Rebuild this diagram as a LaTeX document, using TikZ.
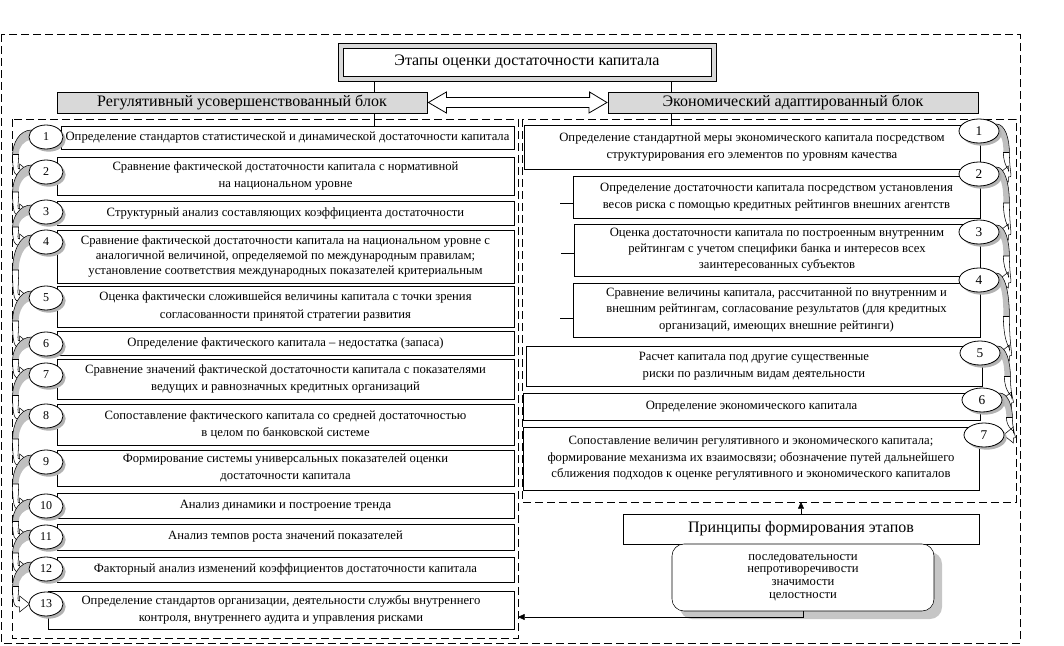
\documentclass[tikz,border=0pt]{standalone}
\usepackage{fontspec}
\setmainfont{Liberation Serif}
\usetikzlibrary{shapes.geometric,shadows,calc,arrows.meta}
\pgfdeclarelayer{bg}
\pgfsetlayers{bg,main}
\begin{document}
\begin{tikzpicture}[x=0.75pt,y=-0.75pt,line width=0.6pt,
  font=\fontsize{9.5}{13}\selectfont,
  box/.style={draw,fill=white,inner sep=0pt,align=center},
  hbox/.style={draw,fill=gray!30,inner sep=0pt,font=\fontsize{12}{14}\selectfont},
  lell/.style={ellipse,draw,fill=white,minimum width=25.5pt,minimum height=18pt,inner sep=0pt,
    drop shadow={shadow xshift=2pt,shadow yshift=-2pt,fill=gray!60,opacity=1},
    font=\fontsize{9}{10}\selectfont},
  rell/.style={lell,minimum width=30pt,font=\fontsize{10}{11}\selectfont},
  frame/.style={draw,dash pattern=on 6pt off 3pt},
  tip/.style={-{Triangle[length=5pt,width=4.5pt]}},
  pics/carr/.style n args={3}{code={
    \fill[gray!50] (3,-7) .. controls ({-0.6*#3},-7) and ({-#3},{0.2*#1}) .. ({-#3},{0.5*#1})
      -- ({-#3+6},{0.5*#1}) .. controls ({-#3+6},{0.3*#1}) and ({-0.3*#3},3) .. (3,3) -- cycle;
    \draw (3,-7) .. controls ({-0.6*#3},-7) and ({-#3},{0.2*#1}) .. ({-#3},{0.5*#1});
    \draw[fill=white] ({-#3},{0.5*#1}) .. controls ({-#3},{#1}) and ({#2-14},{#1+4}) .. ({#2-9},{#1+3})
      -- ({#2-9},{#1+8}) -- ({#2+1},{#1}) -- ({#2-9},{#1-8}) -- ({#2-9},{#1-3})
      .. controls ({#2-12},{#1-3}) and ({-#3+6},{#1-6}) .. ({-#3+6},{0.5*#1}) -- cycle;
  }}]
\useasboundingbox (0,0) rectangle (1064,646);

% frames
\draw[frame] (1,34) rectangle (1020,643);
\draw[frame] (12,119) rectangle (518,638);
\draw[frame] (522,119) rectangle (1016,502);

% title
\node[draw,fill=gray!30,minimum width=283.5pt,minimum height=28.5pt,inner sep=0pt] (tout) at (527,62) {};
\node[box,minimum width=276pt,minimum height=21pt,font=\fontsize{12}{14}\selectfont] (title) at (527,62) {Этапы оценки достаточности капитала};

% headings
\node[hbox,minimum width=277.5pt,minimum height=15.75pt] (lg) at (242,102.5) {Регулятивный усовершенствованный блок};
\node[hbox,minimum width=277.5pt,minimum height=15.75pt] (rg) at (793,102.5) {Экономический адаптированный блок};

% double arrow
\draw[fill=white] ([xshift=0.75pt]lg.east) -- ++(18,-10.5) -- ++(0,5.5)
  -- ([shift={(-18,-5)}]rg.west) -- ++(0,-5.5) -- ([xshift=-0.5pt]rg.west)
  -- ++(-18,10.5) -- ++(0,-5.5) -- ([shift={(19,5)}]lg.east) -- ++(0,5.5) -- cycle;

% left boxes
\node[box,minimum width=339.75pt,minimum height=17.25pt] (b1) at (287.5,137.5) {Определение стандартов статистической и динамической достаточности капитала};
\node[box,minimum width=342.75pt,minimum height=28.5pt] (b2) at (285.5,176) {Сравнение фактической достаточности капитала с нормативной\\на национальном уровне};
\node[box,minimum width=342.75pt,minimum height=18pt] (b3) at (285.5,213) {Структурный анализ составляющих коэффициента достаточности};
\node[box,minimum width=342.75pt,minimum height=39.75pt,font=\fontsize{9.5}{11.5}\selectfont] (b4) at (285.5,256.5) {Сравнение фактической достаточности капитала на национальном уровне с\\аналогичной величиной, определяемой по международным правилам;\\установление соответствия международных показателей критериальным};
\node[box,minimum width=342.75pt,minimum height=30.75pt] (b5) at (285.5,306.5) {Оценка фактически сложившейся величины капитала с точки зрения\\согласованности принятой стратегии развития};
\node[box,minimum width=342.75pt,minimum height=18pt] (b6) at (285.5,343) {Определение фактического капитала – недостатка (запаса)};
\node[box,minimum width=342.75pt,minimum height=30pt] (b7) at (285.5,379) {Сравнение значений фактической достаточности капитала с показателями\\ведущих и равнозначных кредитных организаций};
\node[box,minimum width=342.75pt,minimum height=30.75pt] (b8) at (285.5,424.5) {Сопоставление фактического капитала со средней достаточностью\\в целом по банковской системе};
\node[box,minimum width=342.75pt,minimum height=27pt] (b9) at (285.5,468) {Формирование системы универсальных показателей оценки\\достаточности капитала};
\node[box,minimum width=342.75pt,minimum height=18.75pt] (b10) at (285.5,505.5) {Анализ динамики и построение тренда};
\node[box,minimum width=342.75pt,minimum height=19.5pt] (b11) at (285.5,537) {Анализ темпов роста значений показателей};
\node[box,minimum width=342.75pt,minimum height=18.75pt] (b12) at (285.5,569.5) {Факторный анализ изменений коэффициентов достаточности капитала};
\node[box,minimum width=349.5pt,minimum height=28.5pt] (b13) at (281,610) {Определение стандартов организации, деятельности службы внутреннего\\контроля, внутреннего аудита и управления рисками};

% right boxes
\node[box,minimum width=342pt,minimum height=33pt] (r1) at (752,147) {Определение стандартной меры экономического капитала посредством\\структурирования его элементов по уровням качества};
\node[box,minimum width=305.25pt,minimum height=31.5pt] (r2) at (776.5,197) {Определение достаточности капитала посредством установления\\весов риска с помощью кредитных рейтингов внешних агентств};
\node[box,minimum width=304.5pt,minimum height=39pt,font=\fontsize{9.5}{12}\selectfont] (r3) at (777,250) {Оценка достаточности капитала по построенным внутренним\\рейтингам с учетом специфики банка и интересов всех\\заинтересованных субъектов};
\node[box,minimum width=305.25pt,minimum height=40.5pt,font=\fontsize{9.5}{12.3}\selectfont] (r4) at (776.5,310) {Сравнение величины капитала, рассчитанной по внутренним и\\внешним рейтингам, согласование результатов (для кредитных\\организаций, имеющих внешние рейтинги)};
\node[box,minimum width=342pt,minimum height=30pt] (r5) at (754,366) {Расчет капитала под другие существенные\\риски по различным видам деятельности};
\node[box,minimum width=342.75pt,minimum height=20.25pt] (r6) at (751.5,406.5) {Определение экономического капитала};
\node[box,minimum width=342pt,minimum height=47.25pt,font=\fontsize{9.5}{12.3}\selectfont] (r7) at (751,458.5) {Сопоставление величин регулятивного и экономического капитала;\\формирование механизма их взаимосвязи; обозначение путей дальнейшего\\сближения подходов к оценке регулятивного и экономического капиталов};

% ticks left of right boxes
\draw ($(r2.west)+(0,6)$) -- ++(-13,0);
\draw ($(r3.west)+(0,3)$) -- ++(-13,0);
\draw ($(r4.west)+(0,8)$) -- ++(-13,0);

% connections from title and headings
\draw (374,0 |- tout.south) -- (374,0 |- lg.north);
\draw (374,0 |- lg.south) -- (374,0 |- b1.north);
\draw (671,0 |- tout.south) -- (671,0 |- rg.north);
\draw (671,0 |- rg.south) -- (671,0 |- r1.north);

% left ellipses
\node[lell] (l1) at (46,137) {1};
\node[lell] (l2) at (46,172) {2};
\node[lell] (l3) at (46,212) {3};
\node[lell] (l4) at (46,242) {4};
\node[lell] (l5) at (46,298) {5};
\node[lell] (l6) at (46,344) {6};
\node[lell] (l7) at (46,375) {7};
\node[lell] (l8) at (46,416) {8};
\node[lell] (l9) at (46,462) {9};
\node[lell] (l10) at (46,506) {10};
\node[lell] (l11) at (46,537) {11};
\node[lell] (l12) at (46,569) {12};
\node[lell] (l13) at (46,604) {13};

% right ellipses
\node[rell] (e1) at (979,131) {1};
\node[rell] (e2) at (979,174) {2};
\node[rell] (e3) at (979,232) {3};
\node[rell] (e4) at (979,280) {4};
\node[rell] (e5) at (980,353) {5};
\node[rell] (e6) at (982,400) {6};
\node[rell] (e7) at (984,435) {7};

% curved arrows
\begin{pgfonlayer}{bg}
\pic at (l1.west) {carr={35}{0}{16}};
\pic at (l2.west) {carr={40}{0}{16}};
\pic at (l3.west) {carr={30}{0}{16}};
\pic at (l4.west) {carr={56}{0}{16}};
\pic at (l5.west) {carr={46}{0}{16}};
\pic at (l6.west) {carr={31}{0}{16}};
\pic at (l7.west) {carr={41}{0}{16}};
\pic at (l8.west) {carr={46}{0}{16}};
\pic at (l9.west) {carr={44}{0}{16}};
\pic at (l10.west) {carr={31}{0}{16}};
\pic at (l11.west) {carr={32}{0}{16}};
\pic at (l12.west) {carr={35}{0}{16}};
\pic[xscale=-1] at (e1.east) {carr={43}{0}{10}};
\pic[xscale=-1] at (e2.east) {carr={58}{0}{10}};
\pic[xscale=-1] at (e3.east) {carr={48}{0}{10}};
\pic[xscale=-1] at (e4.east) {carr={73}{-1}{10}};
\pic[xscale=-1] at (e5.east) {carr={47}{-2}{10}};
\pic[xscale=-1] at (e6.east) {carr={35}{-2}{10}};
\end{pgfonlayer}

% principles
\node[box,minimum width=267pt,minimum height=22.5pt,font=\fontsize{12}{14}\selectfont] (p) at (801,529) {Принципы формирования этапов};
\node[draw,fill=white,rounded corners=9pt,minimum width=196.5pt,minimum height=50.25pt,inner sep=0pt,align=center,
  drop shadow={shadow xshift=6pt,shadow yshift=-6pt,fill=gray!45,opacity=1},
  font=\fontsize{9.5}{9.4}\selectfont] (rb) at (803,577.5) {последовательности\\непротиворечивости\\значимости\\целостности};
\coordinate (rfb) at (802,502);
\coordinate (lfr) at (518,617);
\draw[tip] (p.north) -- (p.north |- rfb);
\draw[tip] (rb.south) |- (lfr);
\end{tikzpicture}
\end{document}
